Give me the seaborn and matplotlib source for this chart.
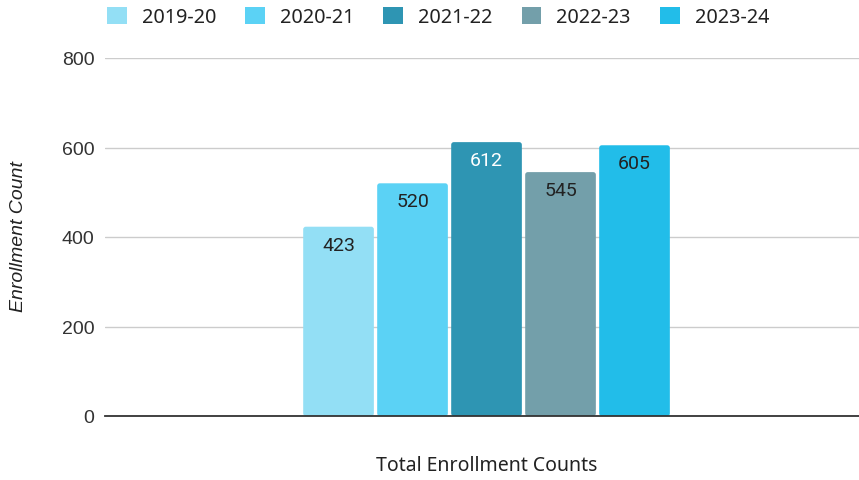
import matplotlib
matplotlib.use("Agg")
import matplotlib.pyplot as plt
import seaborn as sns
import pandas as pd
from matplotlib.patches import FancyBboxPatch

# Enrollment totals by academic year
years = ["2019-20", "2020-21", "2021-22", "2022-23", "2023-24"]
enrollment = [423, 520, 612, 545, 605]
colors = ["#93dff5", "#5bd2f5", "#2e95b3", "#739faa", "#22bde9"]
label_colors = ["#222222", "#222222", "#ffffff", "#222222", "#222222"]
group = "Total Enrollment Counts"

df = pd.DataFrame({"group": [group] * len(years), "year": years, "count": enrollment})

sns.set_style("white")
fig = plt.figure(figsize=(8.59, 4.81), dpi=100)
ax = fig.add_axes([105 / 859, 1 - 417 / 481, 754 / 859, 358 / 481])

sns.barplot(data=df, x="group", y="count", hue="year", hue_order=years,
            palette=colors, width=0.4907, gap=0.045, legend=False,
            saturation=1, ax=ax, zorder=3)

ax.set_xlim(-0.506, 0.494)
ax.set_ylim(0, 800)
ax.set_yticks([0, 200, 400, 600, 800])
ax.yaxis.grid(True, color="#cccccc", linewidth=1.0, zorder=0)
ax.set_axisbelow(True)
ax.set_xticks([])
for s in ["top", "right", "left"]:
    ax.spines[s].set_visible(False)
ax.spines["bottom"].set_color("#333333")
ax.spines["bottom"].set_linewidth(1.3)
ax.spines["bottom"].set_zorder(5)

ax.tick_params(axis="y", length=0, pad=7.5, labelsize=14, labelcolor="#333333")
for t in ax.get_yticklabels():
    t.set_fontfamily("Liberation Sans")

ax.set_ylabel("Enrollment Count", fontsize=14, fontstyle="italic",
              fontfamily="Liberation Sans", color="#222222")
ax.yaxis.set_label_coords(-0.1034, 0.503)
ax.set_xlabel("Total Enrollment Counts", fontsize=14, fontfamily="Noto Sans",
              color="#222222", labelpad=28)
ax.xaxis.set_label_coords(0.506, -0.07)
ax.xaxis.label.set_va("center")
ax.xaxis.set_label_coords(0.506, -(466 - 417) / 358)

# Soften bar corners and add value labels just inside the bar tops
asp = (800 / 358) / (1.0 / 754)  # data-unit aspect so rounding is circular in pixels
for container, value, color, lc in zip(ax.containers, enrollment, colors, label_colors):
    for bar in container:
        x0, y0 = bar.get_x(), bar.get_y()
        w, h = bar.get_width(), bar.get_height()
        bar.set_visible(False)
        fb = FancyBboxPatch((x0, y0), w, h,
                            boxstyle="round,pad=0,rounding_size=0.0035",
                            mutation_aspect=asp, facecolor=color,
                            edgecolor="none", zorder=3)
        ax.add_patch(fb)
        ax.annotate(f"{value}", xy=(x0 + w / 2, value), xytext=(0, -13),
                    textcoords="offset points", ha="center", va="center",
                    fontsize=14, fontfamily="Roboto", color=lc, zorder=4)

handles = [plt.Rectangle((0, 0), 1, 1, facecolor=c, edgecolor="none") for c in colors]
fig.legend(handles, years, loc="center", bbox_to_anchor=(438 / 859, 1 - 18 / 481),
           ncol=5, frameon=False, handlelength=1.0, handleheight=1.0,
           handletextpad=0.75, columnspacing=1.46,
           prop={"family": "Noto Sans", "size": 14.3}, labelcolor="#222222")

fig.savefig("out.png", dpi=100)
